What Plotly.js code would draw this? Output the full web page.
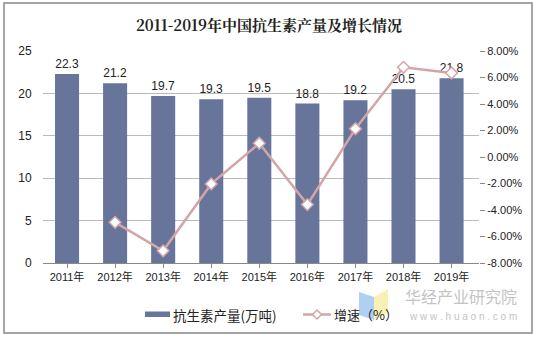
<!DOCTYPE html>
<html><head><meta charset="utf-8">
<script src="https://cdn.plot.ly/plotly-3.0.1.min.js"></script>
<style>html,body{margin:0;padding:0;background:#fff}#c{width:538px;height:339px}</style>
</head><body><div id="c"></div>
<script>
const years = ["2011年","2012年","2013年","2014年","2015年","2016年","2017年","2018年","2019年"];
const output = [22.3,21.2,19.7,19.3,19.5,18.8,19.2,20.5,21.8];
const growthYears = ["2012年","2013年","2014年","2015年","2016年","2017年","2018年","2019年"];
const growth = [-4.93,-7.08,-2.03,1.04,-3.59,2.13,6.77,6.34];
const leftTicks = [0,5,10,15,20,25];
const rightTicks = [-8,-6,-4,-2,0,2,4,6,8];
const seriesNames = ['抗生素产量(万吨)','增速（%）'];

const barColor = '#67759A', lineColor = '#D4A5A7';
const font = "Arial, 'Liberation Sans', 'Noto Sans CJK SC', sans-serif";
// plot area in px: x 43..479, y 51..263
const L=43, W=436, B=263, H=212;
const px = x => (x-L)/W, py = y => (B-y)/H;

const data = [
  {type:'bar', x:years, y:output, name:seriesNames[0], marker:{color:barColor},
   text:output.map(v=>v.toFixed(1)), textposition:'outside', cliponaxis:false,
   textfont:{size:12,color:'#222',family:font}, width:0.5, hoverinfo:'none', showlegend:false},
  {type:'scatter', mode:'lines+markers', x:growthYears, y:growth, yaxis:'y2', name:seriesNames[1], showlegend:false,
   line:{color:lineColor,width:2.5}, marker:{symbol:'diamond',size:9,color:'#fff',line:{color:lineColor,width:1.5}}}
];

const dx=317, dy=314.5, dr=4.5;
const layout = {
  width:538, height:339, margin:{l:43,r:59,t:51,b:76},
  paper_bgcolor:'#fff', plot_bgcolor:'#fff', showlegend:false,
  title:{text:'<b>2011-2019年中国抗生素产量及增长情况</b>', x:0.5, xanchor:'center', y:0.925, yanchor:'middle',
    font:{family:"'Noto Serif CJK SC','Noto Sans CJK SC',serif", size:15, color:'#222'}},
  xaxis:{type:'category', tickfont:{size:11,color:'#222',family:font}, showline:true, linecolor:'#888',
    ticks:'outside', ticklen:4, tickcolor:'#888', showgrid:false, fixedrange:true},
  yaxis:{range:[0,25], tickvals:leftTicks, tickfont:{size:12,color:'#222',family:font},
    showgrid:true, gridcolor:'#BBBBBB', gridwidth:1, zeroline:false, showline:false, ticks:'outside', ticklen:0, ticklabelstandoff:8},
  yaxis2:{overlaying:'y', side:'right', range:[-8,8], tickvals:rightTicks,
    ticktext:rightTicks.map(v=>v.toFixed(2)+'%'), tickfont:{size:11,color:'#222',family:font},
    showgrid:false, zeroline:false, showline:false, ticks:'outside', ticklen:5, tickcolor:'#888'},
  bargap:0.5,
  shapes:[
    {type:'rect', xref:'paper', yref:'paper', x0:px(4), x1:px(532), y0:py(333), y1:py(3),
     line:{color:'#888',width:1.5}, fillcolor:'rgba(0,0,0,0)'},
    // watermark logo
    {type:'path', xref:'paper', yref:'paper', layer:'below',
     path:`M ${px(359)} ${py(292)} L ${px(374)} ${py(297)} L ${px(374)} ${py(320)} L ${px(359)} ${py(315)} Z`,
     fillcolor:'#AFCFF3', line:{width:0}},
    {type:'path', xref:'paper', yref:'paper', layer:'below',
     path:`M ${px(374)} ${py(297)} L ${px(388)} ${py(289)} L ${px(388)} ${py(313)} L ${px(374)} ${py(320)} Z`,
     fillcolor:'#FAF0B4', line:{width:0}},
    // legend: bar swatch
    {type:'rect', xref:'paper', yref:'paper', x0:px(145), x1:px(170), y0:py(317), y1:py(311.5),
     fillcolor:barColor, line:{width:0}},
    // legend: line swatch
    {type:'line', xref:'paper', yref:'paper', x0:px(303), x1:px(331), y0:py(dy), y1:py(dy),
     line:{color:lineColor,width:2.5}},
    {type:'path', xref:'paper', yref:'paper',
     path:`M ${px(dx-dr)} ${py(dy)} L ${px(dx)} ${py(dy-dr)} L ${px(dx+dr)} ${py(dy)} L ${px(dx)} ${py(dy+dr)} Z`,
     fillcolor:'#fff', line:{color:lineColor,width:1.5}}
  ],
  annotations:[
    {xref:'paper', yref:'paper', x:px(518), y:py(296), xanchor:'right', yanchor:'middle', showarrow:false, borderpad:0,
     text:'华经产业研究院', font:{size:16,color:'#C4C4C4',family:"'Noto Sans CJK SC',sans-serif"}},
    {xref:'paper', yref:'paper', x:px(518), y:py(316), xanchor:'right', yanchor:'middle', showarrow:false, borderpad:0,
     text:'w w w . h u a o n . c o m', font:{size:10,color:'#C4C4C4',family:font}},
    {xref:'paper', yref:'paper', x:px(171), y:py(dy), xanchor:'left', yanchor:'middle', showarrow:false,
     text:seriesNames[0], font:{size:13.5,color:'#222',family:"'Noto Sans CJK SC',sans-serif"}},
    {xref:'paper', yref:'paper', x:px(332), y:py(dy), xanchor:'left', yanchor:'middle', showarrow:false,
     text:seriesNames[1], font:{size:13,color:'#222',family:"'Noto Sans CJK SC',sans-serif"}}
  ]
};
Plotly.newPlot('c', data, layout, {displayModeBar:false, staticPlot:true});
</script></body></html>
